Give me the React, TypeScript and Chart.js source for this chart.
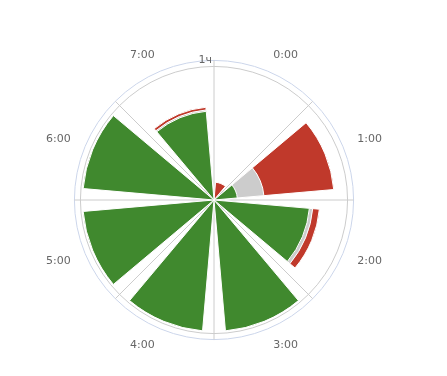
import React, { useEffect, useRef } from 'react';
import { Chart, registerables } from 'chart.js';

Chart.register(...registerables);

// ---- data ----
const categories = ['0:00', '1:00', '2:00', '3:00', '4:00', '5:00', '6:00', '7:00'];
const greenValues = [0, 10.5, 43, 59, 59, 59, 59, 40];
const greyValues = [0, 12, 1.5, 0, 0, 0, 0, 0.6];
const redValues = [8, 31.5, 3, 0, 0, 0, 0, 1.2];
const hourTick = 60;
const axisMax = 62.7;
const hourLabel = '1ч';

const GAP_DEG = 5;
const BAR_DEG = 35;
const FONT = 'DejaVu Sans';

function expand(values: number[]): number[] {
  const out: number[] = [];
  values.forEach((v) => out.push(0, v, 0));
  return out;
}

const cumGrey = greenValues.map((g, i) => (greyValues[i] > 0 ? g + greyValues[i] : 0));
const cumRed = greenValues.map((g, i) =>
  redValues[i] > 0 ? g + greyValues[i] + redValues[i] : 0
);

const angleFn = (ctx: any) => (ctx.dataIndex % 3 === 1 ? BAR_DEG : GAP_DEG);
const borderFn = (ctx: any) => (ctx.dataIndex % 3 === 1 && ctx.raw > 0 ? 1 : 0);

export default function App() {
  const ref = useRef<HTMLCanvasElement | null>(null);
  useEffect(() => {
    if (!ref.current) return;
    const chart = new Chart(ref.current, {
      type: 'polarArea',
      data: {
        labels: categories,
        datasets: [
          {
            label: 'green',
            data: expand(greenValues),
            backgroundColor: '#40892e',
            borderColor: '#ffffff',
            borderWidth: borderFn,
            angle: angleFn,
          } as any,
          {
            label: 'grey',
            data: expand(cumGrey),
            backgroundColor: '#cccccc',
            borderColor: '#ffffff',
            borderWidth: borderFn,
            angle: angleFn,
          } as any,
          {
            label: 'red',
            data: expand(cumRed),
            backgroundColor: '#c0392b',
            borderColor: '#ffffff',
            borderWidth: borderFn,
            angle: angleFn,
          } as any,
        ],
      },
      options: {
        responsive: false,
        animation: false,
        events: [],
        layout: { padding: { left: 0, right: 19, top: 53, bottom: 28 } },
        plugins: { legend: { display: false }, tooltip: { enabled: false } },
        scales: {
          r: {
            min: 0,
            max: axisMax,
            startAngle: 0,
            afterBuildTicks: (s: any) => {
              s.ticks = [{ value: 0 }, { value: hourTick }, { value: axisMax }];
            },
            ticks: {
              display: true,
              font: { size: 11, family: FONT },
              color: '#666666',
              backdropPadding: 0,
              showLabelBackdrop: false,
              callback: (v: any) =>
                v === axisMax ? hourLabel + '\u00a0\u00a0\u00a0\u00a0\u00a0' : '',
            },
            grid: {
              circular: true,
              color: (ctx: any) =>
                ctx.tick && ctx.tick.value === hourTick ? '#cccccc' : '#ccd6eb',
              lineWidth: 1,
            },
            angleLines: { display: true, color: '#cccccc', lineWidth: 1 },
            pointLabels: {
              display: true,
              centerPointLabels: true,
              padding: 10,
              font: { size: 11, family: FONT, lineHeight: 0.3 },
              color: '#666666',
            },
          } as any,
        },
      },
    });
    return () => chart.destroy();
  }, []);
  return (
    <div style={{ position: 'fixed', left: 0, top: 0, width: 447, height: 376 }}>
      <canvas ref={ref} width={447} height={376} />
    </div>
  );
}
